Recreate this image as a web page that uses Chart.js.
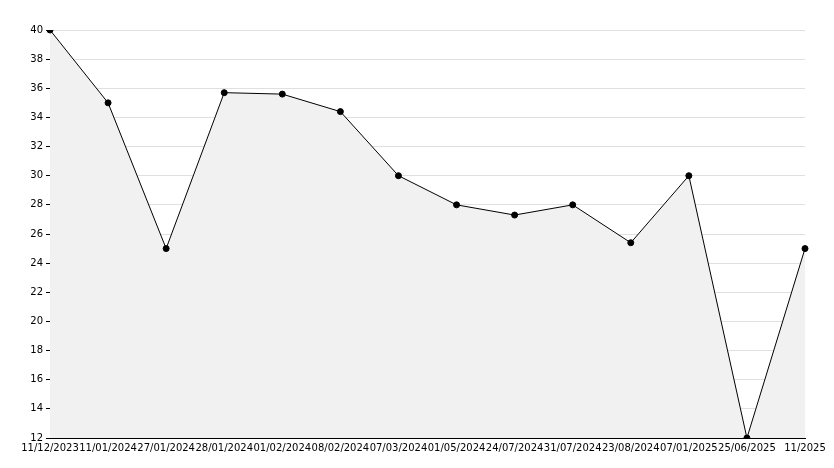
<!DOCTYPE html>
<html><head><meta charset="utf-8">
<script src="https://cdn.jsdelivr.net/npm/chart.js@4"></script>
<style>html,body{margin:0;padding:0;background:#fff}#w{width:834px;height:468px}</style>
</head><body><div id="w"><canvas id="c"></canvas></div>
<script>
const categories=["11/12/2023","11/01/2024","27/01/2024","28/01/2024","01/02/2024","08/02/2024","07/03/2024","01/05/2024","24/07/2024","31/07/2024","23/08/2024","07/01/2025","25/06/2025","11/2025"];
const values=[40,35,25,35.7,35.6,34.4,30,28,27.3,28,25.4,30,12,25];
const yMin=12, yMax=40, yStep=2;
Chart.defaults.font.family="DejaVu Sans";
Chart.defaults.font.size=10;
Chart.defaults.color="#000";
new Chart(document.getElementById('c'),{
type:'line',
data:{labels:categories,datasets:[{data:values,borderColor:'#000',borderWidth:1,backgroundColor:'#f1f1f1',fill:'start',tension:0,pointRadius:3,pointBackgroundColor:'#000',pointBorderColor:'#000',pointStyle:'circle'}]},
options:{responsive:true,maintainAspectRatio:false,animation:false,
layout:{padding:{top:30,right:29,left:0,bottom:0}},
plugins:{legend:{display:false},tooltip:{enabled:false}},
scales:{
x:{offset:false,grid:{display:false,drawTicks:false},border:{color:'#000'},ticks:{maxRotation:0,autoSkip:false,padding:4},afterFit:s=>{s.height=30;}},
y:{min:yMin,max:yMax,grid:{color:'#e0e0e0',tickLength:4,tickColor:'#000'},border:{color:'#000'},ticks:{stepSize:yStep,padding:3},afterFit:s=>{s.width=50;}}
}}});
</script></body></html>
